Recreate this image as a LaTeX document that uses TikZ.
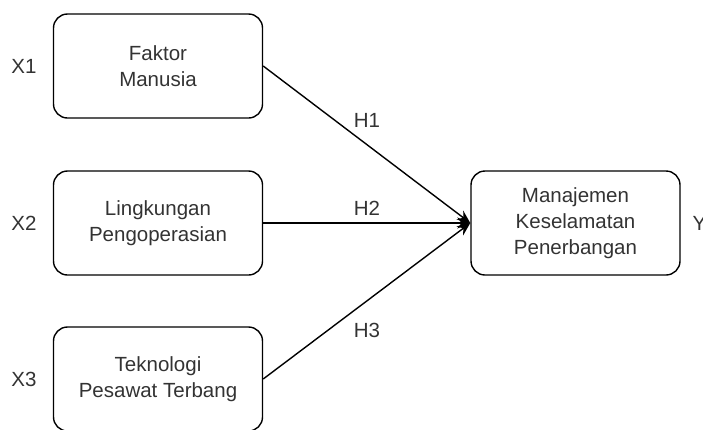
\documentclass[tikz,border=0pt]{standalone}
\usepackage{fontspec}
\setmainfont{Liberation Sans}
\usepackage{tikz}
\usetikzlibrary{arrows.meta,positioning}

\begin{document}
\begin{tikzpicture}[x=1pt, y=-1pt,
  every node/.style={font=\fontsize{20.5}{26}\selectfont, text=black!80},
  box/.style={draw=black, line width=1.4pt, rounded corners=14pt, align=center,
    minimum width=209pt, minimum height=104pt, inner sep=0pt},
  arr/.style={-{Stealth[length=13pt,width=11pt]}, line width=1.4pt, black}]
  \useasboundingbox (0,0) rectangle (703,429);

  % independent variables (left)
  \foreach \i/\y/\txt in {1/66/{Faktor\\Manusia},2/223/{Lingkungan\\Pengoperasian},3/379/{Teknologi\\Pesawat Terbang}} {
    \node[box] (x\i) at (158,\y) {\txt};
    \node (lx\i) at (24,\y) {X\i};
  }

  % dependent variable (right)
  \node[box] (y) at (575.5,223) {Manajemen\\Keselamatan\\Penerbangan};
  \node[anchor=west] (ly) at (689,223) {Y};

  % hypotheses
  \foreach \i/\hy in {1/120,2/208,3/330} {
    \draw[arr] (x\i.east) -- (y.west);
    \node (h\i) at (367,\hy) {H\i};
  }
\end{tikzpicture}
\end{document}
